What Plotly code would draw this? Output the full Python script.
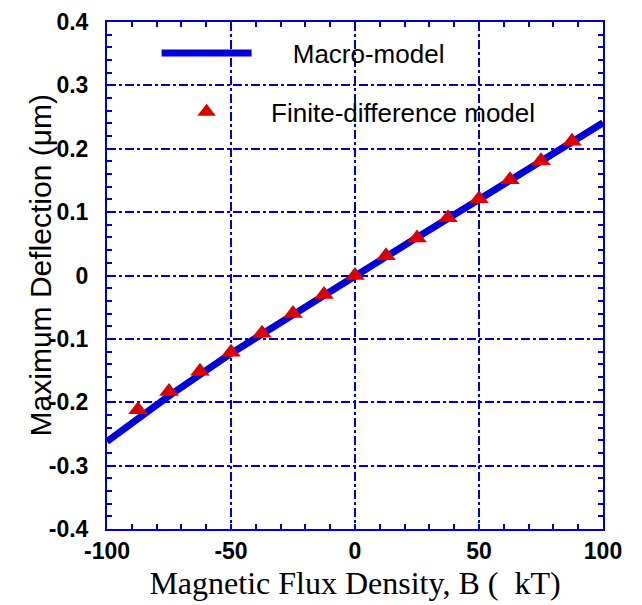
import plotly.graph_objects as go

# Data
macro_x = [-100, -75, -50, -25, 0, 25, 50, 75, 100]
macro_y = [-0.262, -0.19, -0.123, -0.061, 0.0, 0.06, 0.12, 0.18, 0.241]

fd_x = [-87.5, -75, -62.5, -50, -37.5, -25, -12.5, 0, 12.5, 25, 37.5, 50, 62.5, 75, 87.5]
fd_y = [-0.212, -0.183, -0.151, -0.121, -0.091, -0.06, -0.03, 0.0, 0.031, 0.059,
        0.091, 0.121, 0.151, 0.181, 0.212]

x_ticks = [-100, -50, 0, 50, 100]
x_tick_labels = ["-100", "-50", "0", "50", "100"]
y_ticks = [-0.4, -0.3, -0.2, -0.1, 0, 0.1, 0.2, 0.3, 0.4]
y_tick_labels = ["-0.4", "-0.3", "-0.2", "-0.1", "0", "0.1", "0.2", "0.3", "0.4"]

BLUE = "#0000dd"
AX = "#0000cc"
NB = "\u00a0"

fig = go.Figure()
fig.add_trace(go.Scatter(
    x=macro_x, y=macro_y, mode="lines", name=NB * 5 + "Macro-model",
    line=dict(color=BLUE, width=7), legendgroup="a"))
fig.add_trace(go.Scatter(
    x=fd_x, y=fd_y, mode="markers", name=NB * 2 + "Finite-difference model",
    marker=dict(symbol="triangle-up", size=17, color="#dd0000", line=dict(width=0)),
    legendgroup="b"))

tickfont = dict(family="Liberation Sans, Arial", size=23, color="black", weight="bold")

fig.update_xaxes(
    range=[-100, 100], tickvals=x_ticks, ticktext=x_tick_labels,
    showline=True, linecolor=AX, linewidth=2, mirror="allticks",
    ticks="inside", ticklen=5, tickcolor=AX, tickwidth=1.5,
    showgrid=True, gridcolor=AX, gridwidth=1.5, griddash="dashdot",
    zeroline=False, tickfont=tickfont, automargin=False,
    minor=dict(dtick=10, ticks="inside", ticklen=5, tickcolor=AX, tickwidth=1.5, showgrid=False),
    title=dict(text="Magnetic Flux Density, B (  kT)",
               font=dict(family="Liberation Serif, Times New Roman", size=32, color="black"),
               standoff=9),
)
fig.update_yaxes(
    range=[-0.4, 0.4], tickvals=y_ticks, ticktext=y_tick_labels,
    showline=True, linecolor=AX, linewidth=2, mirror="allticks",
    ticks="inside", ticklen=5, tickcolor=AX, tickwidth=1.5,
    showgrid=True, gridcolor=AX, gridwidth=1.5, griddash="dashdot",
    zeroline=False, tickfont=tickfont, ticklabelstandoff=12, automargin=False,
    minor=dict(dtick=0.02, ticks="inside", ticklen=5, tickcolor=AX, tickwidth=1.5, showgrid=False),
)

fig.add_annotation(
    text="Maximum Deflection (μm)", textangle=-90,
    xref="paper", yref="paper", x=-0.135, y=0.52, xanchor="center", yanchor="middle",
    showarrow=False,
    font=dict(family="Liberation Sans, Arial", size=30, color="black"))

fig.update_layout(
    width=642, height=605,
    margin=dict(l=99, r=47, t=14, b=84),
    plot_bgcolor="white", paper_bgcolor="white",
    showlegend=True,
    legend=dict(x=0.1, y=0.985, xanchor="left", yanchor="top",
                bgcolor="rgba(0,0,0,0)", borderwidth=0,
                font=dict(family="Liberation Sans, Arial", size=26, color="black"),
                itemwidth=90, traceorder="grouped", tracegroupgap=22),
)

fig.write_html("out.html")
